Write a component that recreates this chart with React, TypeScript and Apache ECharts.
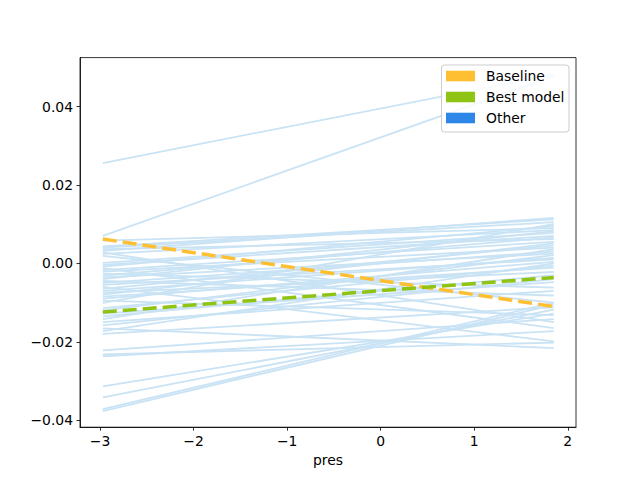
import React, { useEffect, useRef } from "react";
import * as echarts from "echarts";

const xEnds = [-2.97, 1.85];
const xTicks = [-3, -2, -1, 0, 1, 2];
const yTicks = [-0.04, -0.02, 0, 0.02, 0.04];

const baseline = [0.0062, -0.011];
const bestModel = [-0.0124, -0.0036];

const otherStart = [
  0.0256, 0.007, 0.0058, 0.0043, 0.004, 0.0036, 0.0032, 0.0028, 0.0024, 0.0019,
  0.0001, -0.0004, -0.0008, -0.0012, -0.0017, -0.0021, -0.0026, -0.0031, -0.0036, -0.004,
  -0.0045, -0.005, -0.0055, -0.006, -0.0065, -0.007, -0.0075, -0.008, -0.0085, -0.009,
  -0.0095, -0.0101, -0.0114, -0.012, -0.0128, -0.0135, -0.0142, -0.015, -0.0158, -0.0166,
  -0.0173, -0.018, -0.0222, -0.0232, -0.0237, -0.0314, -0.0342, -0.0372, -0.0377,
];
const otherEnd = [
  0.0482, 0.0478, 0.009, 0.0112, 0.0105, 0.0062, 0.0116, -0.015, 0.0085, -0.01,
  0.0078, 0.007, 0.0095, -0.0165, 0.0055, 0.004, -0.0062, 0.0066, 0.0025, 0.0082,
  -0.0082, 0.003, 0.001, -0.0199, 0.0046, 0.0014, -0.0022, 0.0051, -0.0011, 0.0004,
  -0.0132, 0.01, -0.0006, 0.0021, -0.0048, -0.003, 0.0036, -0.007, -0.004, -0.0216,
  0.0, -0.0112, -0.0142, -0.0202, -0.0173, -0.0128, -0.0118, -0.01, -0.0106,
];

const legendNames = ["Baseline", "Best model", "Other"];
const legendColors = ["#ffbf33", "#8fc314", "#2e86e6"];

const FONT = "DejaVu Sans";
const minus = (s: string) => s.replace("-", "\u2212");

export default function App() {
  const ref = useRef<HTMLDivElement>(null);
  useEffect(() => {
    if (!ref.current) return;
    const chart = echarts.init(ref.current, undefined, { renderer: "svg" });

    const otherSeries = otherStart.map((s, i) => ({
      type: "line",
      name: "Other",
      data: [
        [xEnds[0], s],
        [xEnds[1], otherEnd[i]],
      ],
      symbol: "none",
      silent: true,
      lineStyle: { color: "#c9e3f5", width: 1.8 },
      z: 2,
    }));

    const dashed = (name: string, vals: number[], color: string) => ({
      type: "line",
      name,
      data: [
        [xEnds[0], vals[0]],
        [xEnds[1], vals[1]],
      ],
      symbol: "none",
      silent: true,
      lineStyle: { color, width: 3.5, type: [14, 6] },
      z: 3,
    });

    const legendX = 441.5;
    const legendY = 65;
    const graphic: any[] = [
      {
        type: "rect",
        shape: { x: legendX, y: legendY, width: 127.5, height: 67, r: 3 },
        style: { fill: "rgba(255,255,255,0.8)", stroke: "#cccccc", lineWidth: 1 },
        z: 10,
      },
    ];
    legendNames.forEach((n, i) => {
      const cy = 76 + i * 21;
      graphic.push({
        type: "rect",
        shape: { x: 446, y: cy - 5.3, width: 29, height: 10.6 },
        style: { fill: legendColors[i] },
        z: 11,
      });
      graphic.push({
        type: "text",
        x: 486,
        y: cy,
        style: {
          text: n,
          fill: "#000",
          font: `13.9px "${FONT}"`,
          verticalAlign: "middle",
          align: "left",
        },
        z: 11,
      });
    });

    const axisLine = { show: true, onZero: false, lineStyle: { color: "#000", width: 0.8 } };

    chart.setOption({
      animation: false,
      grid: {
        left: 80,
        right: 64,
        top: 57.6,
        bottom: 52.8,
        show: true,
        borderColor: "#000",
        borderWidth: 0.8,
        backgroundColor: "transparent",
      },
      xAxis: {
        type: "value",
        min: -3.214,
        max: 2.088,
        name: "pres",
        nameLocation: "middle",
        nameGap: 25,
        nameTextStyle: { color: "#000", fontSize: 13.9, fontFamily: FONT },
        axisLine,
        axisTick: {
          show: true,
          inside: false,
          length: 3.5,
          lineStyle: { color: "#000", width: 0.8 },
          customValues: xTicks,
        },
        axisLabel: {
          color: "#000",
          fontSize: 13.9,
          fontFamily: FONT,
          margin: 7,
          customValues: xTicks,
          formatter: (v: number) => minus(String(v)),
        },
        splitLine: { show: false },
      },
      yAxis: {
        type: "value",
        min: -0.0418,
        max: 0.0525,
        axisLine,
        axisTick: {
          show: true,
          inside: false,
          length: 3.5,
          lineStyle: { color: "#000", width: 0.8 },
          customValues: yTicks,
        },
        axisLabel: {
          color: "#000",
          fontSize: 13.9,
          fontFamily: FONT,
          margin: 7,
          customValues: yTicks,
          formatter: (v: number) => minus((Math.abs(v) < 1e-9 ? 0 : v).toFixed(2)),
        },
        splitLine: { show: false },
      },
      series: [
        ...otherSeries,
        dashed("Baseline", baseline, legendColors[0]),
        dashed("Best model", bestModel, legendColors[1]),
      ],
      graphic,
    } as any);
    return () => chart.dispose();
  }, []);
  return (
    <div
      ref={ref}
      style={{ position: "fixed", left: 0, top: 0, width: 640, height: 480, background: "#fff" }}
    />
  );
}
